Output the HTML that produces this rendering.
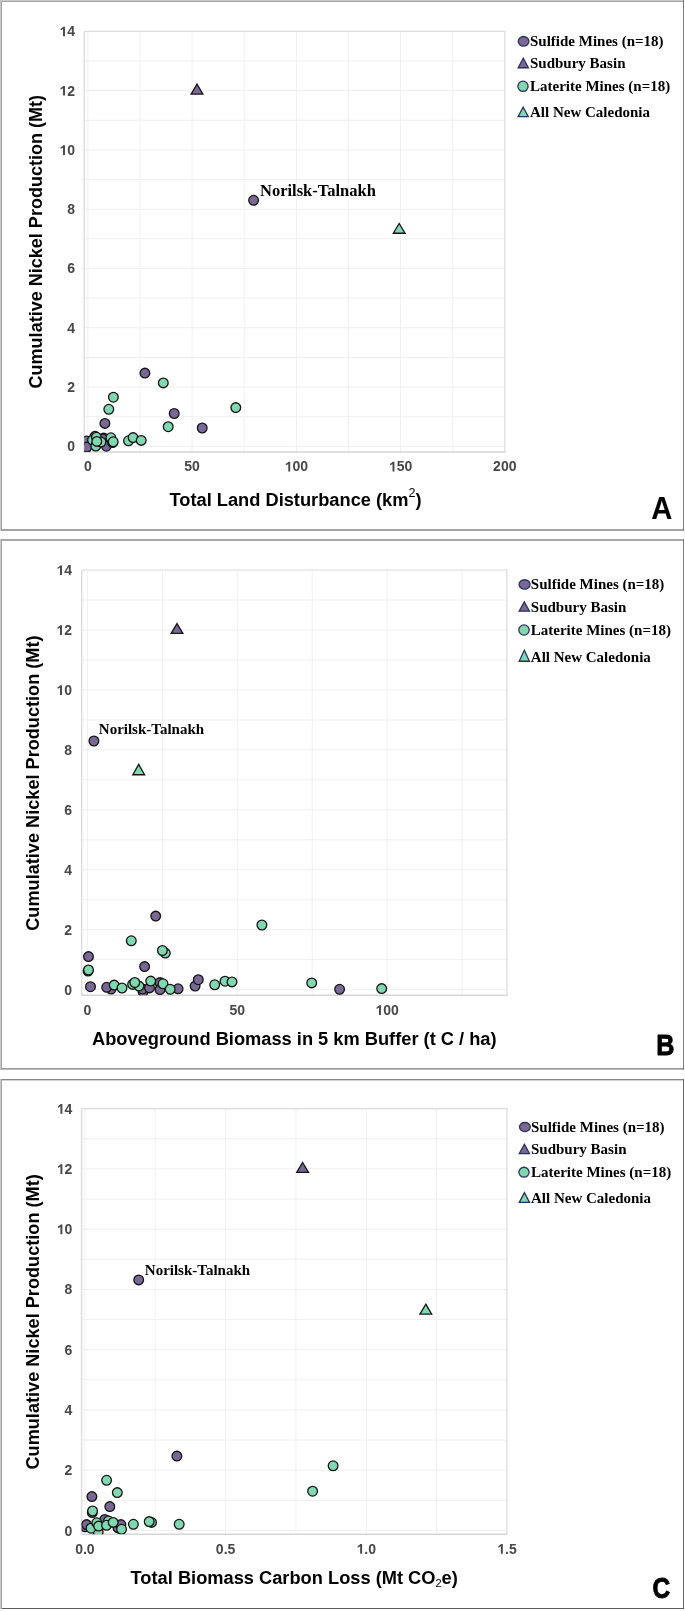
<!DOCTYPE html>
<html><head><meta charset="utf-8"><style>
html,body{margin:0;padding:0;background:#fff;width:685px;height:1611px;overflow:hidden}
svg{display:block;will-change:transform}
.tk{font-family:"Liberation Sans",sans-serif;font-weight:bold;font-size:14px;fill:#474747}
.tkp{fill:#474747}
.ttl{font-family:"Liberation Sans",sans-serif;font-weight:bold;font-size:18.25px;fill:#000}
.lg{font-family:"Liberation Serif",serif;font-weight:bold;font-size:15px;fill:#000}
.lt{font-family:"Liberation Sans",sans-serif;font-weight:bold;font-size:30px;fill:#000}
</style></head><body>
<svg width="685" height="1611" viewBox="0 0 685 1611">
<rect x="0" y="0" width="685" height="1611" fill="#fff"/>

<g id="panelA">
<rect x="0" y="0" width="684" height="1" fill="#c9c9c9"/>
<rect x="1" y="1" width="683" height="1" fill="#a6a6a6"/>
<rect x="1" y="529" width="683" height="1" fill="#a3a3a3"/>
<rect x="0" y="530" width="684" height="1" fill="#a3a3a3"/>
<rect x="0" y="0" width="1" height="531" fill="#c9c9c9"/>
<rect x="1" y="1" width="1" height="530" fill="#a0a0a0"/>
<rect x="683" y="0" width="1" height="531" fill="#7a7a7a"/>
<path d="M87.9,31.4V452.0 M140.0,31.4V452.0 M192.1,31.4V452.0 M244.2,31.4V452.0 M296.4,31.4V452.0 M348.5,31.4V452.0 M400.6,31.4V452.0 M452.7,31.4V452.0 M84.2,446.3H504.8 M84.2,416.7H504.8 M84.2,387.0H504.8 M84.2,357.4H504.8 M84.2,327.7H504.8 M84.2,298.1H504.8 M84.2,268.5H504.8 M84.2,238.8H504.8 M84.2,209.2H504.8 M84.2,179.5H504.8 M84.2,149.9H504.8 M84.2,120.3H504.8 M84.2,90.6H504.8 M84.2,61.0H504.8" stroke="#f0f0f0" stroke-width="1" fill="none"/>
<path d="M84.2,31.4H504.8V452.0" stroke="#dadada" stroke-width="1.2" fill="none"/>
<path d="M84.2,31.4V452.0" stroke="#dedede" stroke-width="1.5" fill="none"/>
<path d="M83.5,452.0H505.4" stroke="#d5d5d5" stroke-width="1.6" fill="none"/>
<text class="tk" x="67.21" y="451.30">0</text>
<text class="tk" x="67.21" y="392.02">2</text>
<text class="tk" x="67.21" y="332.74">4</text>
<text class="tk" x="67.21" y="273.46">6</text>
<text class="tk" x="67.21" y="214.18">8</text>
<path class="tkp" transform="translate(59.43,154.90) scale(0.006836,-0.006836)" d="M528 0V1085Q400 965 170 885V1115Q310 1165 420 1262Q505 1340 545 1409H809V0Z"/><text class="tk" x="67.21" y="154.90">0</text>
<path class="tkp" transform="translate(59.43,95.62) scale(0.006836,-0.006836)" d="M528 0V1085Q400 965 170 885V1115Q310 1165 420 1262Q505 1340 545 1409H809V0Z"/><text class="tk" x="67.21" y="95.62">2</text>
<path class="tkp" transform="translate(59.43,36.34) scale(0.006836,-0.006836)" d="M528 0V1085Q400 965 170 885V1115Q310 1165 420 1262Q505 1340 545 1409H809V0Z"/><text class="tk" x="67.21" y="36.34">4</text>
<text class="tk" x="84.01" y="471.40">0</text>
<text class="tk" x="184.34" y="471.40">50</text>
<path class="tkp" transform="translate(284.67,471.40) scale(0.006836,-0.006836)" d="M528 0V1085Q400 965 170 885V1115Q310 1165 420 1262Q505 1340 545 1409H809V0Z"/><text class="tk" x="292.46" y="471.40">00</text>
<path class="tkp" transform="translate(388.90,471.40) scale(0.006836,-0.006836)" d="M528 0V1085Q400 965 170 885V1115Q310 1165 420 1262Q505 1340 545 1409H809V0Z"/><text class="tk" x="396.68" y="471.40">50</text>
<text class="tk" x="493.12" y="471.40">200</text>
<text class="ttl" x="295.5" y="506.0" text-anchor="middle">Total Land Disturbance (km<tspan font-family="Liberation Sans" font-weight="normal" font-size="12.5" dy="-9.5">2</tspan><tspan dy="9.5" dx="0">)</tspan></text>
<text class="ttl" transform="translate(42.0,241.7) rotate(-90)" x="0" y="0" text-anchor="middle" style="font-size:18.05px">Cumulative Nickel Production (Mt)</text>
<clipPath id="clipA"><rect x="84.2" y="31.4" width="420.6" height="420.6"/></clipPath>
<g clip-path="url(#clipA)" stroke="#141414" stroke-width="1.3">
<circle cx="86.6" cy="441" r="4.85" fill="#7a6795"/>
<circle cx="87" cy="447" r="4.85" fill="#7a6795"/>
<circle cx="95" cy="436.3" r="4.85" fill="#7a6795"/>
<circle cx="103.7" cy="438.1" r="4.85" fill="#7a6795"/>
<circle cx="102.9" cy="438.9" r="4.85" fill="#7a6795"/>
<circle cx="106.3" cy="446.2" r="4.85" fill="#7a6795"/>
<circle cx="112.5" cy="442.5" r="4.85" fill="#7a6795"/>
<circle cx="104.9" cy="423.4" r="4.85" fill="#7a6795"/>
<circle cx="174.2" cy="413.5" r="4.85" fill="#7a6795"/>
<circle cx="202.2" cy="428" r="4.85" fill="#7a6795"/>
<circle cx="144.9" cy="373.1" r="4.85" fill="#7a6795"/>
<circle cx="253.6" cy="200.3" r="4.85" fill="#7a6795"/>
<circle cx="92.5" cy="440.1" r="4.85" fill="#80d7b0"/>
<circle cx="96.4" cy="437.2" r="4.85" fill="#80d7b0"/>
<circle cx="95.8" cy="446" r="4.85" fill="#80d7b0"/>
<circle cx="101" cy="442" r="4.85" fill="#80d7b0"/>
<circle cx="110.9" cy="437.8" r="4.85" fill="#80d7b0"/>
<circle cx="96.8" cy="441.4" r="4.85" fill="#80d7b0"/>
<circle cx="113.2" cy="441.8" r="4.85" fill="#80d7b0"/>
<circle cx="128.5" cy="440.8" r="4.85" fill="#80d7b0"/>
<circle cx="133.1" cy="437.6" r="4.85" fill="#80d7b0"/>
<circle cx="141.2" cy="440.4" r="4.85" fill="#80d7b0"/>
<circle cx="168.2" cy="426.7" r="4.85" fill="#80d7b0"/>
<circle cx="108.8" cy="409.3" r="4.85" fill="#80d7b0"/>
<circle cx="113.4" cy="397.2" r="4.85" fill="#80d7b0"/>
<circle cx="163.3" cy="382.9" r="4.85" fill="#80d7b0"/>
<circle cx="235.8" cy="407.6" r="4.85" fill="#80d7b0"/>
<path d="M197.00,84.00 L202.87,94.05 L191.13,94.05 Z" fill="#7a6795" stroke-linejoin="miter"/>
<path d="M399.20,223.50 L405.07,233.25 L393.33,233.25 Z" fill="#80d7b0" stroke-linejoin="miter"/>
</g>
<text class="lg" x="260.0" y="196.0" style="font-size:16.5px">Norilsk-Talnakh</text>
<ellipse cx="523.6" cy="41.3" rx="5.35" ry="4.80" fill="#7a6795" stroke="#2a3158" stroke-width="1.3"/>
<text class="lg" x="530.0" y="45.8">Sulfide Mines (n=18)</text>
<path d="M523.30,58.20 L528.42,67.75 L518.18,67.75 Z" fill="#7a6795" stroke="#2a3158" stroke-width="1.3"/>
<text class="lg" x="530.0" y="68.3">Sudbury Basin</text>
<ellipse cx="523.0" cy="86.3" rx="5.10" ry="5.15" fill="#80d7b0" stroke="#2a3158" stroke-width="1.3"/>
<text class="lg" x="530.0" y="91.3">Laterite Mines (n=18)</text>
<path d="M523.20,107.20 L528.32,116.65 L518.08,116.65 Z" fill="#80d7b0" stroke="#2a3158" stroke-width="1.3"/>
<text class="lg" x="530.0" y="117.2">All New Caledonia</text>
<text class="lt" transform="translate(651.2,519.1) scale(0.95,1)" x="0" y="0" style="font-size:30.8px">A</text>
</g>
<g id="panelB">
<rect x="0" y="539" width="684" height="1" fill="#a8a8a8"/>
<rect x="1" y="540" width="683" height="1" fill="#a8a8a8"/>
<rect x="0" y="1068" width="684" height="1" fill="#9a9a9a"/>
<rect x="0" y="1069" width="684" height="1" fill="#bdbdbd"/>
<rect x="0" y="539" width="1" height="531" fill="#c9c9c9"/>
<rect x="1" y="539" width="1" height="531" fill="#a0a0a0"/>
<rect x="683" y="539" width="1" height="531" fill="#7a7a7a"/>
<path d="M87.5,570.0V995.2 M162.4,570.0V995.2 M237.3,570.0V995.2 M312.2,570.0V995.2 M387.1,570.0V995.2 M462.0,570.0V995.2 M81.7,989.6H506.9 M81.7,959.6H506.9 M81.7,929.7H506.9 M81.7,899.7H506.9 M81.7,869.7H506.9 M81.7,839.8H506.9 M81.7,809.8H506.9 M81.7,779.8H506.9 M81.7,749.8H506.9 M81.7,719.9H506.9 M81.7,689.9H506.9 M81.7,659.9H506.9 M81.7,630.0H506.9 M81.7,600.0H506.9" stroke="#f0f0f0" stroke-width="1" fill="none"/>
<path d="M81.7,570.0H506.9V995.2" stroke="#dadada" stroke-width="1.2" fill="none"/>
<path d="M81.7,570.0V995.2" stroke="#dedede" stroke-width="1.5" fill="none"/>
<path d="M81.0,995.2H507.5" stroke="#d5d5d5" stroke-width="1.6" fill="none"/>
<text class="tk" x="64.21" y="994.60">0</text>
<text class="tk" x="64.21" y="934.66">2</text>
<text class="tk" x="64.21" y="874.72">4</text>
<text class="tk" x="64.21" y="814.78">6</text>
<text class="tk" x="64.21" y="754.84">8</text>
<path class="tkp" transform="translate(56.43,694.90) scale(0.006836,-0.006836)" d="M528 0V1085Q400 965 170 885V1115Q310 1165 420 1262Q505 1340 545 1409H809V0Z"/><text class="tk" x="64.21" y="694.90">0</text>
<path class="tkp" transform="translate(56.43,634.96) scale(0.006836,-0.006836)" d="M528 0V1085Q400 965 170 885V1115Q310 1165 420 1262Q505 1340 545 1409H809V0Z"/><text class="tk" x="64.21" y="634.96">2</text>
<path class="tkp" transform="translate(56.43,575.02) scale(0.006836,-0.006836)" d="M528 0V1085Q400 965 170 885V1115Q310 1165 420 1262Q505 1340 545 1409H809V0Z"/><text class="tk" x="64.21" y="575.02">4</text>
<text class="tk" x="83.61" y="1015.00">0</text>
<text class="tk" x="229.51" y="1015.00">50</text>
<path class="tkp" transform="translate(375.42,1015.00) scale(0.006836,-0.006836)" d="M528 0V1085Q400 965 170 885V1115Q310 1165 420 1262Q505 1340 545 1409H809V0Z"/><text class="tk" x="383.21" y="1015.00">00</text>
<text class="ttl" x="294.3" y="1044.8" text-anchor="middle">Aboveground Biomass in 5 km Buffer (t C / ha)</text>
<text class="ttl" transform="translate(39.2,783.1) rotate(-90)" x="0" y="0" text-anchor="middle" style="font-size:18.15px">Cumulative Nickel Production (Mt)</text>
<clipPath id="clipB"><rect x="81.7" y="570.0" width="425.2" height="425.2"/></clipPath>
<g clip-path="url(#clipB)" stroke="#141414" stroke-width="1.3">
<circle cx="88.1" cy="971.1" r="4.85" fill="#7a6795"/>
<circle cx="88.5" cy="956.6" r="4.85" fill="#7a6795"/>
<circle cx="90.5" cy="986.7" r="4.85" fill="#7a6795"/>
<circle cx="111.1" cy="989" r="4.85" fill="#7a6795"/>
<circle cx="106.7" cy="987.3" r="4.85" fill="#7a6795"/>
<circle cx="143.1" cy="991.97" r="4.85" fill="#7a6795"/>
<circle cx="142.5" cy="989" r="4.85" fill="#7a6795"/>
<circle cx="149.5" cy="987.9" r="4.85" fill="#7a6795"/>
<circle cx="160" cy="982.6" r="4.85" fill="#7a6795"/>
<circle cx="160" cy="989.6" r="4.85" fill="#7a6795"/>
<circle cx="178.1" cy="988.8" r="4.85" fill="#7a6795"/>
<circle cx="195.1" cy="986.1" r="4.85" fill="#7a6795"/>
<circle cx="198.3" cy="979.7" r="4.85" fill="#7a6795"/>
<circle cx="144.6" cy="966.6" r="4.85" fill="#7a6795"/>
<circle cx="155.7" cy="916.1" r="4.85" fill="#7a6795"/>
<circle cx="339.6" cy="989.3" r="4.85" fill="#7a6795"/>
<circle cx="93.9" cy="741" r="4.85" fill="#7a6795"/>
<circle cx="88.5" cy="970" r="4.85" fill="#80d7b0"/>
<circle cx="114.2" cy="985.1" r="4.85" fill="#80d7b0"/>
<circle cx="122" cy="988" r="4.85" fill="#80d7b0"/>
<circle cx="132.6" cy="984.4" r="4.85" fill="#80d7b0"/>
<circle cx="139" cy="986.1" r="4.85" fill="#80d7b0"/>
<circle cx="134.8" cy="982.5" r="4.85" fill="#80d7b0"/>
<circle cx="150.7" cy="981.1" r="4.85" fill="#80d7b0"/>
<circle cx="163" cy="983.8" r="4.85" fill="#80d7b0"/>
<circle cx="170.2" cy="989.3" r="4.85" fill="#80d7b0"/>
<circle cx="165.3" cy="953.1" r="4.85" fill="#80d7b0"/>
<circle cx="162.4" cy="950.5" r="4.85" fill="#80d7b0"/>
<circle cx="131.3" cy="940.8" r="4.85" fill="#80d7b0"/>
<circle cx="214.7" cy="984.8" r="4.85" fill="#80d7b0"/>
<circle cx="225" cy="981.2" r="4.85" fill="#80d7b0"/>
<circle cx="232" cy="981.9" r="4.85" fill="#80d7b0"/>
<circle cx="261.9" cy="925" r="4.85" fill="#80d7b0"/>
<circle cx="311.7" cy="982.9" r="4.85" fill="#80d7b0"/>
<circle cx="381.7" cy="988.6" r="4.85" fill="#80d7b0"/>
<path d="M177.00,623.60 L182.87,633.45 L171.13,633.45 Z" fill="#7a6795" stroke-linejoin="miter"/>
<path d="M138.70,764.40 L144.57,774.75 L132.83,774.75 Z" fill="#80d7b0" stroke-linejoin="miter"/>
</g>
<text class="lg" x="98.8" y="734.2" style="font-size:15.0px">Norilsk-Talnakh</text>
<ellipse cx="524.6" cy="584.4" rx="5.50" ry="4.65" fill="#7a6795" stroke="#2a3158" stroke-width="1.3"/>
<text class="lg" x="530.8" y="589.4">Sulfide Mines (n=18)</text>
<path d="M524.30,601.90 L529.42,611.15 L519.18,611.15 Z" fill="#7a6795" stroke="#2a3158" stroke-width="1.3"/>
<text class="lg" x="530.8" y="611.5">Sudbury Basin</text>
<ellipse cx="524.0" cy="630.0" rx="5.20" ry="5.10" fill="#80d7b0" stroke="#2a3158" stroke-width="1.3"/>
<text class="lg" x="530.8" y="634.8">Laterite Mines (n=18)</text>
<path d="M524.30,650.30 L529.42,661.25 L519.18,661.25 Z" fill="#80d7b0" stroke="#2a3158" stroke-width="1.3"/>
<text class="lg" x="530.8" y="661.6">All New Caledonia</text>
<text class="lt" transform="translate(656.2,1054.6) scale(0.84,1)" x="0" y="0" style="font-size:30px;stroke:#000;stroke-width:0.9px;stroke-linejoin:round">B</text>
</g>
<g id="panelC">
<rect x="0" y="1079" width="684" height="1" fill="#868686"/>
<rect x="1" y="1080" width="683" height="1" fill="#d2d2d2"/>
<rect x="0" y="1608" width="684" height="1" fill="#5e5e5e"/>
<rect x="0" y="1079" width="1" height="530" fill="#c9c9c9"/>
<rect x="1" y="1079" width="1" height="530" fill="#a0a0a0"/>
<rect x="683" y="1079" width="1" height="530" fill="#6a6a6a"/>
<path d="M84.9,1108.6V1534.2 M155.2,1108.6V1534.2 M225.6,1108.6V1534.2 M295.9,1108.6V1534.2 M366.3,1108.6V1534.2 M436.6,1108.6V1534.2 M81.6,1530.5H506.9 M81.6,1500.4H506.9 M81.6,1470.2H506.9 M81.6,1440.1H506.9 M81.6,1410.0H506.9 M81.6,1379.8H506.9 M81.6,1349.7H506.9 M81.6,1319.6H506.9 M81.6,1289.5H506.9 M81.6,1259.3H506.9 M81.6,1229.2H506.9 M81.6,1199.1H506.9 M81.6,1168.9H506.9 M81.6,1138.8H506.9" stroke="#f0f0f0" stroke-width="1" fill="none"/>
<path d="M81.6,1108.6H506.9V1534.2" stroke="#dadada" stroke-width="1.2" fill="none"/>
<path d="M81.6,1108.6V1534.2" stroke="#dedede" stroke-width="1.5" fill="none"/>
<path d="M80.9,1534.2H507.5" stroke="#d5d5d5" stroke-width="1.6" fill="none"/>
<text class="tk" x="64.61" y="1535.50">0</text>
<text class="tk" x="64.61" y="1475.24">2</text>
<text class="tk" x="64.61" y="1414.98">4</text>
<text class="tk" x="64.61" y="1354.72">6</text>
<text class="tk" x="64.61" y="1294.46">8</text>
<path class="tkp" transform="translate(56.83,1234.20) scale(0.006836,-0.006836)" d="M528 0V1085Q400 965 170 885V1115Q310 1165 420 1262Q505 1340 545 1409H809V0Z"/><text class="tk" x="64.61" y="1234.20">0</text>
<path class="tkp" transform="translate(56.83,1173.94) scale(0.006836,-0.006836)" d="M528 0V1085Q400 965 170 885V1115Q310 1165 420 1262Q505 1340 545 1409H809V0Z"/><text class="tk" x="64.61" y="1173.94">2</text>
<path class="tkp" transform="translate(56.83,1113.68) scale(0.006836,-0.006836)" d="M528 0V1085Q400 965 170 885V1115Q310 1165 420 1262Q505 1340 545 1409H809V0Z"/><text class="tk" x="64.61" y="1113.68">4</text>
<text class="tk" x="75.17" y="1553.70">0.0</text>
<text class="tk" x="215.87" y="1553.70">0.5</text>
<path class="tkp" transform="translate(356.57,1553.70) scale(0.006836,-0.006836)" d="M528 0V1085Q400 965 170 885V1115Q310 1165 420 1262Q505 1340 545 1409H809V0Z"/><text class="tk" x="364.36" y="1553.70">.0</text>
<path class="tkp" transform="translate(497.27,1553.70) scale(0.006836,-0.006836)" d="M528 0V1085Q400 965 170 885V1115Q310 1165 420 1262Q505 1340 545 1409H809V0Z"/><text class="tk" x="505.06" y="1553.70">.5</text>
<text class="ttl" x="294.2" y="1584.0" text-anchor="middle">Total Biomass Carbon Loss (Mt CO<tspan font-family="Liberation Sans" font-weight="normal" font-size="11" dy="3">2</tspan><tspan dy="-3">e)</tspan></text>
<text class="ttl" transform="translate(39.1,1321.9) rotate(-90)" x="0" y="0" text-anchor="middle" style="font-size:18.15px">Cumulative Nickel Production (Mt)</text>
<clipPath id="clipC"><rect x="81.6" y="1108.6" width="425.3" height="425.6"/></clipPath>
<g clip-path="url(#clipC)" stroke="#141414" stroke-width="1.3">
<circle cx="85.1" cy="1526.8" r="4.85" fill="#7a6795"/>
<circle cx="86.6" cy="1524.6" r="4.85" fill="#7a6795"/>
<circle cx="92.3" cy="1512.5" r="4.85" fill="#7a6795"/>
<circle cx="91.9" cy="1496.6" r="4.85" fill="#7a6795"/>
<circle cx="104.8" cy="1519.5" r="4.85" fill="#7a6795"/>
<circle cx="109.8" cy="1506.6" r="4.85" fill="#7a6795"/>
<circle cx="118" cy="1527.9" r="4.85" fill="#7a6795"/>
<circle cx="120.9" cy="1524.6" r="4.85" fill="#7a6795"/>
<circle cx="176.9" cy="1456.1" r="4.85" fill="#7a6795"/>
<circle cx="138.7" cy="1279.9" r="4.85" fill="#7a6795"/>
<circle cx="98.2" cy="1531.9" r="4.85" fill="#80d7b0"/>
<circle cx="91" cy="1528.2" r="4.85" fill="#80d7b0"/>
<circle cx="96.8" cy="1522.8" r="4.85" fill="#80d7b0"/>
<circle cx="98.6" cy="1526.1" r="4.85" fill="#80d7b0"/>
<circle cx="108.5" cy="1521" r="4.85" fill="#80d7b0"/>
<circle cx="106.6" cy="1525.3" r="4.85" fill="#80d7b0"/>
<circle cx="113.2" cy="1522.4" r="4.85" fill="#80d7b0"/>
<circle cx="121.6" cy="1529.3" r="4.85" fill="#80d7b0"/>
<circle cx="92.6" cy="1511" r="4.85" fill="#80d7b0"/>
<circle cx="106.6" cy="1480.3" r="4.85" fill="#80d7b0"/>
<circle cx="117.3" cy="1492.6" r="4.85" fill="#80d7b0"/>
<circle cx="133.4" cy="1524.3" r="4.85" fill="#80d7b0"/>
<circle cx="151.5" cy="1522.4" r="4.85" fill="#80d7b0"/>
<circle cx="149.2" cy="1521.6" r="4.85" fill="#80d7b0"/>
<circle cx="179.2" cy="1524.3" r="4.85" fill="#80d7b0"/>
<circle cx="312.6" cy="1491.2" r="4.85" fill="#80d7b0"/>
<circle cx="333.1" cy="1465.8" r="4.85" fill="#80d7b0"/>
<path d="M302.60,1162.50 L308.47,1172.35 L296.73,1172.35 Z" fill="#7a6795" stroke-linejoin="miter"/>
<path d="M425.80,1304.20 L431.67,1314.05 L419.93,1314.05 Z" fill="#80d7b0" stroke-linejoin="miter"/>
</g>
<text class="lg" x="144.8" y="1275.0" style="font-size:15.0px">Norilsk-Talnakh</text>
<ellipse cx="524.9" cy="1127.0" rx="5.40" ry="4.50" fill="#7a6795" stroke="#2a3158" stroke-width="1.3"/>
<text class="lg" x="531.0" y="1131.5">Sulfide Mines (n=18)</text>
<path d="M524.40,1144.30 L529.52,1153.55 L519.28,1153.55 Z" fill="#7a6795" stroke="#2a3158" stroke-width="1.3"/>
<text class="lg" x="531.0" y="1153.6">Sudbury Basin</text>
<ellipse cx="524.0" cy="1172.2" rx="5.10" ry="4.95" fill="#80d7b0" stroke="#2a3158" stroke-width="1.3"/>
<text class="lg" x="531.0" y="1176.9">Laterite Mines (n=18)</text>
<path d="M524.40,1192.60 L529.52,1202.45 L519.28,1202.45 Z" fill="#80d7b0" stroke="#2a3158" stroke-width="1.3"/>
<text class="lg" x="531.0" y="1203.0">All New Caledonia</text>
<text class="lt" transform="translate(652.5,1597.6) scale(0.84,1)" x="0" y="0" style="font-size:29.2px;stroke:#000;stroke-width:0.9px;stroke-linejoin:round">C</text>
</g>
</svg></body></html>
